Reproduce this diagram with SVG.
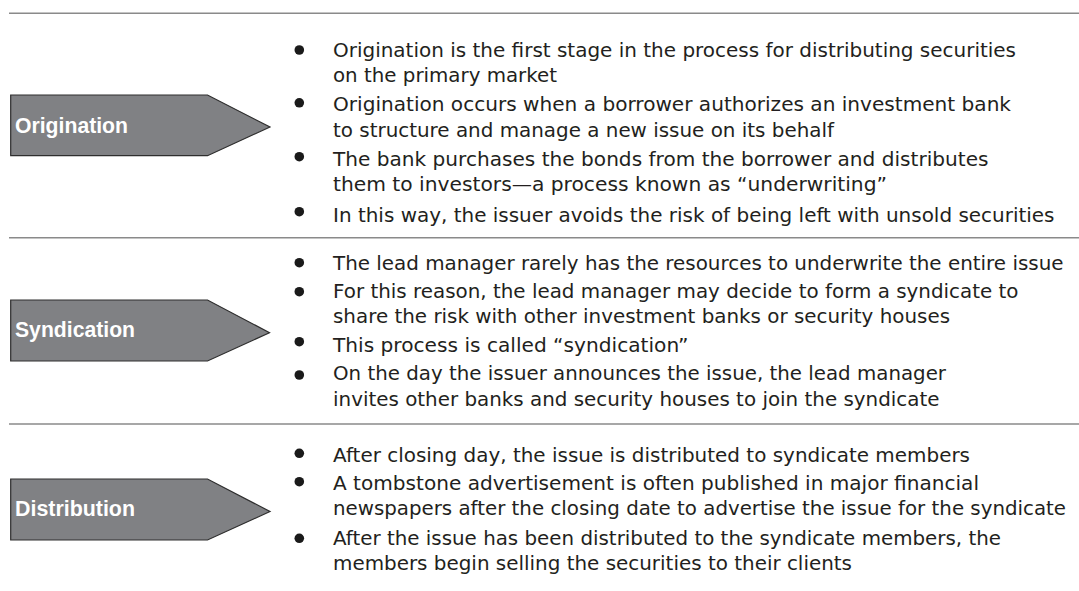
<svg xmlns="http://www.w3.org/2000/svg" width="1079" height="591" viewBox="0 0 1079 591">
<style>
.sep{stroke:#8a8a8a;stroke-width:1.5;fill:none}
.arrow{fill:#808184;stroke:#2e2e2e;stroke-width:1.2}
.lbl{font-family:"Liberation Sans",Arial,sans-serif;font-weight:bold;font-size:21.5px;fill:#ffffff}
.txt{font-family:"DejaVu Sans","Liberation Sans",sans-serif;font-size:19.5px;fill:#231f20}
.dot{fill:#1a1a1a}
</style>
<rect width="1079" height="591" fill="#ffffff"/>
<g id="separators">
<line class="sep" x1="9" y1="13.3" x2="1079" y2="13.3"/>
<line class="sep" x1="9" y1="237.7" x2="1079" y2="237.7"/>
<line class="sep" x1="9" y1="424" x2="1079" y2="424"/>
</g>
<g id="origination">
<polygon class="arrow" points="10.7,95 207.5,95 270,127 207.5,155.7 10.7,155.7"/>
<text class="lbl" x="15" y="132.7" textLength="113" lengthAdjust="spacingAndGlyphs">Origination</text>
<circle class="dot" cx="299.3" cy="50" r="4.8"/>
<circle class="dot" cx="299.3" cy="102.8" r="4.8"/>
<circle class="dot" cx="299.3" cy="156.7" r="4.8"/>
<circle class="dot" cx="299.3" cy="211.7" r="4.8"/>
<text class="txt" x="333" y="56.7" textLength="683" lengthAdjust="spacingAndGlyphs">Origination is the first stage in the process for distributing securities</text>
<text class="txt" x="333" y="82.3" textLength="224" lengthAdjust="spacingAndGlyphs">on the primary market</text>
<text class="txt" x="333" y="111" textLength="678" lengthAdjust="spacingAndGlyphs">Origination occurs when a borrower authorizes an investment bank</text>
<text class="txt" x="333" y="136.7" textLength="501" lengthAdjust="spacingAndGlyphs">to structure and manage a new issue on its behalf</text>
<text class="txt" x="333" y="165.7" textLength="655.5" lengthAdjust="spacingAndGlyphs">The bank purchases the bonds from the borrower and distributes</text>
<text class="txt" x="333" y="191" textLength="554" lengthAdjust="spacingAndGlyphs">them to investors—a process known as “underwriting”</text>
<text class="txt" x="333" y="221.7" textLength="721.5" lengthAdjust="spacingAndGlyphs">In this way, the issuer avoids the risk of being left with unsold securities</text>
</g>
<g id="syndication">
<polygon class="arrow" points="10.7,300 207.5,300 269.5,332.7 207.5,361 10.7,361"/>
<text class="lbl" x="15" y="336.7" textLength="120" lengthAdjust="spacingAndGlyphs">Syndication</text>
<circle class="dot" cx="299.3" cy="262.7" r="4.8"/>
<circle class="dot" cx="299.3" cy="291.7" r="4.8"/>
<circle class="dot" cx="299.3" cy="341.7" r="4.8"/>
<circle class="dot" cx="299.3" cy="375" r="4.8"/>
<text class="txt" x="333" y="270" textLength="730.5" lengthAdjust="spacingAndGlyphs">The lead manager rarely has the resources to underwrite the entire issue</text>
<text class="txt" x="333" y="298.3" textLength="685.5" lengthAdjust="spacingAndGlyphs">For this reason, the lead manager may decide to form a syndicate to</text>
<text class="txt" x="333" y="323.3" textLength="617" lengthAdjust="spacingAndGlyphs">share the risk with other investment banks or security houses</text>
<text class="txt" x="333" y="352.3" textLength="355.5" lengthAdjust="spacingAndGlyphs">This process is called “syndication”</text>
<text class="txt" x="333" y="380" textLength="613" lengthAdjust="spacingAndGlyphs">On the day the issuer announces the issue, the lead manager</text>
<text class="txt" x="333" y="406" textLength="606.5" lengthAdjust="spacingAndGlyphs">invites other banks and security houses to join the syndicate</text>
</g>
<g id="distribution">
<polygon class="arrow" points="10.7,479 207.5,479 270,511.5 207.5,540 10.7,540"/>
<text class="lbl" x="15" y="515.7" textLength="120" lengthAdjust="spacingAndGlyphs">Distribution</text>
<circle class="dot" cx="299.3" cy="453.3" r="4.8"/>
<circle class="dot" cx="299.3" cy="481.7" r="4.8"/>
<circle class="dot" cx="299.3" cy="538.3" r="4.8"/>
<text class="txt" x="333" y="461.7" textLength="637" lengthAdjust="spacingAndGlyphs">After closing day, the issue is distributed to syndicate members</text>
<text class="txt" x="333" y="490" textLength="646" lengthAdjust="spacingAndGlyphs">A tombstone advertisement is often published in major financial</text>
<text class="txt" x="333" y="515" textLength="733" lengthAdjust="spacingAndGlyphs">newspapers after the closing date to advertise the issue for the syndicate</text>
<text class="txt" x="333" y="545" textLength="668" lengthAdjust="spacingAndGlyphs">After the issue has been distributed to the syndicate members, the</text>
<text class="txt" x="333" y="570" textLength="519" lengthAdjust="spacingAndGlyphs">members begin selling the securities to their clients</text>
</g>
<g id="connectors"></g>
</svg>
